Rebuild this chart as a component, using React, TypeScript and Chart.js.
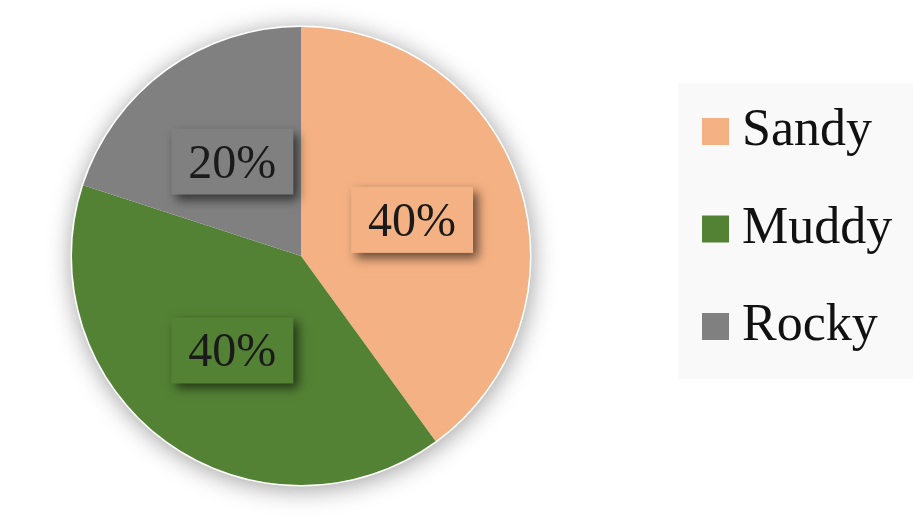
import React, { useEffect, useRef } from "react";
import { Chart, registerables } from "chart.js";

Chart.register(...registerables);

// Substrate types and their shares (%)
const categories = ["Sandy", "Muddy", "Rocky"];
const shares = [40, 40, 20];
const sliceColors = ["#F4B183", "#548235", "#808080"];

const SERIF = '"Liberation Serif", "Times New Roman", serif';

// Soft drop shadow behind the whole pie
const pieShadow = {
  id: "pieShadow",
  beforeDatasetsDraw(chart: any) {
    const arc = chart.getDatasetMeta(0).data[0];
    if (!arc) return;
    const { x, y, outerRadius } = arc.getProps(["x", "y", "outerRadius"], true);
    const ctx = chart.ctx;
    ctx.save();
    ctx.shadowColor = "rgba(0,0,0,0.38)";
    ctx.shadowBlur = 24;
    ctx.shadowOffsetX = 1;
    ctx.shadowOffsetY = 3;
    ctx.fillStyle = "#ffffff";
    ctx.beginPath();
    ctx.arc(x, y, outerRadius + 1.5, 0, Math.PI * 2);
    ctx.fill();
    ctx.restore();
  },
};

// Percentage labels in boxes with a shadow, placed halfway out along each slice
const sliceLabels = {
  id: "sliceLabels",
  afterDatasetsDraw(chart: any) {
    const ctx = chart.ctx;
    const data = chart.data.datasets[0].data as number[];
    const total = data.reduce((a, b) => a + b, 0);
    const colors = chart.data.datasets[0].backgroundColor as string[];
    chart.getDatasetMeta(0).data.forEach((arc: any, i: number) => {
      const { x, y, startAngle, endAngle, outerRadius } = arc.getProps(
        ["x", "y", "startAngle", "endAngle", "outerRadius"],
        true
      );
      const mid = (startAngle + endAngle) / 2;
      const cx = x + Math.cos(mid) * outerRadius * 0.51;
      const cy = y + Math.sin(mid) * outerRadius * 0.51;
      const text = Math.round((data[i] / total) * 100) + "%";
      ctx.save();
      ctx.font = `48px ${SERIF}`;
      const tw = ctx.measureText(text).width;
      const bw = tw + 34;
      const bh = 66;
      ctx.shadowColor = "rgba(0,0,0,0.6)";
      ctx.shadowBlur = 10;
      ctx.shadowOffsetX = 5;
      ctx.shadowOffsetY = 5;
      ctx.fillStyle = colors[i];
      ctx.fillRect(cx - bw / 2, cy - bh / 2, bw, bh);
      ctx.shadowColor = "transparent";
      ctx.fillStyle = "#1a1a1a";
      ctx.textAlign = "center";
      ctx.textBaseline = "alphabetic";
      ctx.fillText(text, cx, cy + 16);
      ctx.restore();
    });
  },
};

// Legend panel on the right
const sideLegend = {
  id: "sideLegend",
  afterDraw(chart: any) {
    const ctx = chart.ctx;
    const labels = chart.data.labels as string[];
    const colors = chart.data.datasets[0].backgroundColor as string[];
    ctx.save();
    ctx.fillStyle = "#f9f9f9";
    ctx.fillRect(678, 83, 235, 296);
    ctx.font = `52px ${SERIF}`;
    ctx.textAlign = "left";
    ctx.textBaseline = "alphabetic";
    labels.forEach((label, i) => {
      const baseline = 145 + i * 97.5;
      ctx.fillStyle = colors[i];
      ctx.fillRect(702, baseline - 27, 27, 27);
      ctx.fillStyle = "#111111";
      ctx.fillText(label, 742, baseline);
    });
    ctx.restore();
  },
};

export default function App() {
  const canvasRef = useRef<HTMLCanvasElement | null>(null);

  useEffect(() => {
    if (!canvasRef.current) return;
    const chart = new Chart(canvasRef.current, {
      type: "pie",
      data: {
        labels: categories,
        datasets: [
          {
            data: shares,
            backgroundColor: sliceColors,
            borderWidth: 0,
          },
        ],
      },
      options: {
        responsive: false,
        animation: false,
        layout: { padding: { top: 27, bottom: 37, left: 72, right: 383 } },
        plugins: {
          legend: { display: false },
          tooltip: { enabled: false },
        },
      },
      plugins: [pieShadow, sliceLabels, sideLegend],
    });
    return () => chart.destroy();
  }, []);

  return (
    <div style={{ position: "absolute", left: 0, top: 0, width: 913, height: 522, background: "#ffffff" }}>
      <canvas ref={canvasRef} width={913} height={522} style={{ display: "block" }} />
    </div>
  );
}
